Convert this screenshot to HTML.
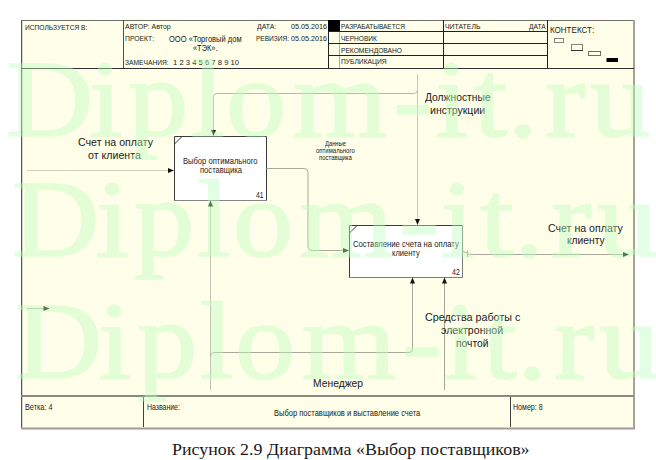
<!DOCTYPE html>
<html><head><meta charset="utf-8"><style>
html,body{margin:0;padding:0;background:#fff;width:656px;height:460px;overflow:hidden;position:relative}
.t{position:absolute;white-space:nowrap;line-height:1}
.wmg{position:absolute;left:0;top:0;width:656px;height:460px;opacity:0.42}
.wmg span{position:absolute;white-space:nowrap;line-height:1;font-family:'Liberation Serif', serif;font-size:110px;color:rgb(190,255,190);-webkit-text-stroke:1.6px rgb(190,255,190);transform:scaleX(1.1);transform-origin:0 0}
</style></head><body>
<svg width="656" height="460" style="position:absolute;left:0;top:0">
<rect x="21" y="20" width="613" height="408" fill="#fefee9"/>
<!-- outer frame -->
<line x1="21.5" y1="20" x2="21.5" y2="429" stroke="#55575e" stroke-width="1"/><line x1="22.5" y1="21" x2="22.5" y2="427" stroke="#d5d5c5" stroke-width="1"/>
<line x1="21" y1="20.5" x2="635" y2="20.5" stroke="#6e6e66" stroke-width="1"/>
<line x1="634" y1="20" x2="634" y2="429" stroke="#a2a496" stroke-width="2"/>
<line x1="21" y1="428.5" x2="635" y2="428.5" stroke="#9c9d98" stroke-width="2"/>
<!-- header lines -->
<line x1="21" y1="68.5" x2="634" y2="68.5" stroke="#303030"/>
<line x1="123.5" y1="20" x2="123.5" y2="68" stroke="#505050"/>
<line x1="328.5" y1="20" x2="328.5" y2="68" stroke="#202020"/>
<rect x="328" y="20" width="12" height="12" fill="#000"/>
<line x1="339.5" y1="32" x2="339.5" y2="68" stroke="#b0b0a8"/>
<line x1="328" y1="31.5" x2="547" y2="31.5" stroke="#202020"/>
<line x1="328" y1="43.5" x2="547" y2="43.5" stroke="#202020"/>
<line x1="328" y1="55.5" x2="547" y2="55.5" stroke="#202020"/>
<line x1="443.5" y1="20" x2="443.5" y2="68" stroke="#202020"/>
<line x1="547.5" y1="20" x2="547.5" y2="68" stroke="#202020"/>
<!-- context mini boxes -->
<rect x="554.5" y="38.5" width="9" height="4" fill="none" stroke="#84847c"/>
<rect x="571.5" y="44.5" width="11" height="6" fill="none" stroke="#84847c"/>
<line x1="571" y1="50.5" x2="583" y2="50.5" stroke="#333"/>
<rect x="588.5" y="51.5" width="12" height="4" fill="none" stroke="#6c6c64"/>
<rect x="606.5" y="58" width="11.5" height="4" fill="#000"/>
<!-- footer lines -->
<line x1="21" y1="396" x2="634" y2="396" stroke="#8a8a84" stroke-width="2"/>
<line x1="143.5" y1="397" x2="143.5" y2="427" stroke="#404040"/>
<line x1="510.5" y1="397" x2="510.5" y2="427" stroke="#404040"/>
<!-- boxes -->
<rect x="174" y="136" width="93" height="65" fill="#fff"/><path d="M174.5 201 V136.5 H266.5 V201" fill="none" stroke="#3a3a3a"/><path d="M174 200.5 H267" stroke="#858585"/>
<line x1="174.5" y1="144" x2="182" y2="136.5" stroke="#333"/>
<rect x="349" y="225" width="114" height="53" fill="#fff"/><path d="M349.5 278 V225.5 H462.5" fill="none" stroke="#3a3a3a"/><path d="M462.5 225 V277.5 H349" fill="none" stroke="#7a7a7a"/>
<line x1="349.5" y1="233" x2="357" y2="225.5" stroke="#333"/>
<!-- arrows -->
<g fill="none" stroke-width="1">
<path d="M27 170.5 H169" stroke="#d0d0c0"/>
<path d="M417.5 74 V220" stroke="#c8c8b9"/>
<path d="M417.5 90 Q417.5 93.5 414 93.5 H217 Q213.5 93.5 213.5 97 V131" stroke="#b9b9aa"/>
<path d="M266.5 168.5 H304 Q308 168.5 308 172.5 V246 Q308 250.5 312.5 250.5 H344" stroke="#aaaa9b"/>
<path d="M210.5 390 V205" stroke="#c4c4b5"/>
<path d="M210.5 356 Q210.5 352.5 214 352.5 H409 Q412.5 352.5 412.5 349 V283" stroke="#aaa89b"/>
<path d="M444.5 390 V283" stroke="#a5a596"/>
<path d="M462.5 251 L470 254.5 H624" stroke="#aaa59b"/>
<path d="M467.5 250.5 V257" stroke="#aaa59b"/>
<path d="M27 308.5 H44" stroke="#b8b8a8"/>
</g>
<path d="M168 168.0 L168 173.0 L174 170.5 Z" fill="#111"/>
<path d="M211.0 130 L216.0 130 L213.5 136 Z" fill="#111"/>
<path d="M415.0 219 L420.0 219 L417.5 225 Z" fill="#111"/>
<path d="M208.0 206.5 L213.0 206.5 L210.5 200.5 Z" fill="#111"/>
<path d="M343 248.0 L343 253.0 L349 250.5 Z" fill="#111"/>
<path d="M410.0 283.5 L415.0 283.5 L412.5 277.5 Z" fill="#111"/>
<path d="M442.0 283.5 L447.0 283.5 L444.5 277.5 Z" fill="#111"/>
<path d="M623 252.0 L623 257.0 L629 254.5 Z" fill="#111"/>
<path d="M43.5 306.0 L43.5 311.0 L49.5 308.5 Z" fill="#111"/>
</svg>
<div class="t" style="left:24.70px;top:24.03px;font-size:8.0px;font-family:'Liberation Sans', sans-serif;color:#1a1a1a;font-weight:normal;word-spacing:0px;transform:scaleX(0.8293);transform-origin:0 0;">ИСПОЛЬЗУЕТСЯ В:</div>
<div class="t" style="left:124.90px;top:23.23px;font-size:8.0px;font-family:'Liberation Sans', sans-serif;color:#1a1a1a;font-weight:normal;word-spacing:0px;transform:scaleX(0.8717);transform-origin:0 0;">АВТОР: Автор</div>
<div class="t" style="left:125.00px;top:35.03px;font-size:8.0px;font-family:'Liberation Sans', sans-serif;color:#1a1a1a;font-weight:normal;word-spacing:0px;transform:scaleX(0.8500);transform-origin:0 0;">ПРОЕКТ:</div>
<div class="t" style="left:168.80px;top:35.76px;font-size:8.2px;font-family:'Liberation Sans', sans-serif;color:#1a1a1a;font-weight:normal;word-spacing:0px;transform:scaleX(0.9215);transform-origin:0 0;">ООО «Торговый дом</div>
<div class="t" style="left:192.80px;top:44.56px;font-size:8.2px;font-family:'Liberation Sans', sans-serif;color:#1a1a1a;font-weight:normal;word-spacing:0px;transform:scaleX(0.9037);transform-origin:0 0;">«ТЭК».</div>
<div class="t" style="left:125.00px;top:59.23px;font-size:8.0px;font-family:'Liberation Sans', sans-serif;color:#1a1a1a;font-weight:normal;word-spacing:0px;transform:scaleX(0.8346);transform-origin:0 0;">ЗАМЕЧАНИЯ:</div>
<div class="t" style="left:173.40px;top:58.57px;font-size:7.6px;font-family:'Liberation Sans', sans-serif;color:#1a1a1a;font-weight:normal;word-spacing:0px;transform:scaleX(1.0091);transform-origin:0 0;">1 2 3 4 5 6 7 8 9 10</div>
<div class="t" style="left:256.56px;top:23.43px;font-size:8.0px;font-family:'Liberation Sans', sans-serif;color:#1a1a1a;font-weight:normal;word-spacing:0px;transform:scaleX(0.8609);transform-origin:0 0;">ДАТА:</div>
<div class="t" style="left:291.00px;top:23.43px;font-size:8.0px;font-family:'Liberation Sans', sans-serif;color:#1a1a1a;font-weight:normal;word-spacing:0px;transform:scaleX(0.9000);transform-origin:0 0;">05.05.2016</div>
<div class="t" style="left:255.70px;top:34.93px;font-size:8.0px;font-family:'Liberation Sans', sans-serif;color:#1a1a1a;font-weight:normal;word-spacing:0px;transform:scaleX(0.8175);transform-origin:0 0;">РЕВИЗИЯ:</div>
<div class="t" style="left:291.00px;top:34.93px;font-size:8.0px;font-family:'Liberation Sans', sans-serif;color:#1a1a1a;font-weight:normal;word-spacing:0px;transform:scaleX(0.9000);transform-origin:0 0;">05.05.2016</div>
<div class="t" style="left:341.00px;top:22.83px;font-size:8.0px;font-family:'Liberation Sans', sans-serif;color:#1a1a1a;font-weight:normal;word-spacing:0px;transform:scaleX(0.8101);transform-origin:0 0;">РАЗРАБАТЫВАЕТСЯ</div>
<div class="t" style="left:341.00px;top:34.73px;font-size:8.0px;font-family:'Liberation Sans', sans-serif;color:#1a1a1a;font-weight:normal;word-spacing:0px;transform:scaleX(0.8182);transform-origin:0 0;">ЧЕРНОВИК</div>
<div class="t" style="left:341.00px;top:46.63px;font-size:8.0px;font-family:'Liberation Sans', sans-serif;color:#1a1a1a;font-weight:normal;word-spacing:0px;transform:scaleX(0.8315);transform-origin:0 0;">РЕКОМЕНДОВАНО</div>
<div class="t" style="left:341.00px;top:57.93px;font-size:8.0px;font-family:'Liberation Sans', sans-serif;color:#1a1a1a;font-weight:normal;word-spacing:0px;transform:scaleX(0.8364);transform-origin:0 0;">ПУБЛИКАЦИЯ</div>
<div class="t" style="left:444.50px;top:22.83px;font-size:8.0px;font-family:'Liberation Sans', sans-serif;color:#1a1a1a;font-weight:normal;word-spacing:0px;transform:scaleX(0.8610);transform-origin:0 0;">ЧИТАТЕЛЬ</div>
<div class="t" style="left:528.84px;top:22.83px;font-size:8.0px;font-family:'Liberation Sans', sans-serif;color:#1a1a1a;font-weight:normal;word-spacing:0px;transform:scaleX(0.8381);transform-origin:0 0;">ДАТА</div>
<div class="t" style="left:550.00px;top:26.38px;font-size:9.0px;font-family:'Liberation Sans', sans-serif;color:#1a1a1a;font-weight:normal;word-spacing:0px;transform:scaleX(0.8918);transform-origin:0 0;">КОНТЕКСТ:</div>
<div class="t" style="left:24.80px;top:403.96px;font-size:8.2px;font-family:'Liberation Sans', sans-serif;color:#1a1a1a;font-weight:normal;word-spacing:0px;transform:scaleX(0.8871);transform-origin:0 0;">Ветка: 4</div>
<div class="t" style="left:146.80px;top:403.56px;font-size:8.2px;font-family:'Liberation Sans', sans-serif;color:#1a1a1a;font-weight:normal;word-spacing:0px;transform:scaleX(0.8462);transform-origin:0 0;">Название:</div>
<div class="t" style="left:273.50px;top:408.50px;font-size:8.5px;font-family:'Liberation Sans', sans-serif;color:#1a1a1a;font-weight:normal;word-spacing:0px;transform:scaleX(0.8873);transform-origin:0 0;">Выбор поставщиков и выставление счета</div>
<div class="t" style="left:512.80px;top:403.96px;font-size:8.2px;font-family:'Liberation Sans', sans-serif;color:#1a1a1a;font-weight:normal;word-spacing:0px;transform:scaleX(0.8629);transform-origin:0 0;">Номер: 8</div>
<div class="t" style="left:77.50px;top:136.93px;font-size:10.6px;font-family:'Liberation Sans', sans-serif;color:#1a1a1a;font-weight:normal;word-spacing:0px;transform:scaleX(1.0027);transform-origin:0 0;">Счет на оплату</div>
<div class="t" style="left:88.10px;top:149.93px;font-size:10.6px;font-family:'Liberation Sans', sans-serif;color:#1a1a1a;font-weight:normal;word-spacing:0px;transform:scaleX(1.0038);transform-origin:0 0;">от клиента</div>
<div class="t" style="left:425.27px;top:92.13px;font-size:10.6px;font-family:'Liberation Sans', sans-serif;color:#1a1a1a;font-weight:normal;word-spacing:0px;transform:scaleX(0.9725);transform-origin:0 0;">Должностные</div>
<div class="t" style="left:430.00px;top:105.03px;font-size:10.6px;font-family:'Liberation Sans', sans-serif;color:#1a1a1a;font-weight:normal;word-spacing:0px;transform:scaleX(0.9929);transform-origin:0 0;">инструкции</div>
<div class="t" style="left:182.90px;top:157.00px;font-size:8.5px;font-family:'Liberation Sans', sans-serif;color:#1a1a1a;font-weight:normal;word-spacing:0px;transform:scaleX(0.8929);transform-origin:0 0;">Выбор оптимального</div>
<div class="t" style="left:199.70px;top:166.40px;font-size:8.5px;font-family:'Liberation Sans', sans-serif;color:#1a1a1a;font-weight:normal;word-spacing:0px;transform:scaleX(0.8957);transform-origin:0 0;">поставщика</div>
<div class="t" style="left:255.90px;top:190.60px;font-size:8.5px;font-family:'Liberation Sans', sans-serif;color:#1a1a1a;font-weight:normal;word-spacing:0px;transform:scaleX(0.7850);transform-origin:0 0;">41</div>
<div class="t" style="left:325.08px;top:140.81px;font-size:6.6px;font-family:'Liberation Sans', sans-serif;color:#1a1a1a;font-weight:normal;word-spacing:0px;transform:scaleX(0.8800);transform-origin:0 0;">Данные</div>
<div class="t" style="left:316.00px;top:148.01px;font-size:6.6px;font-family:'Liberation Sans', sans-serif;color:#1a1a1a;font-weight:normal;word-spacing:0px;transform:scaleX(0.9093);transform-origin:0 0;">оптимального</div>
<div class="t" style="left:319.20px;top:155.41px;font-size:6.6px;font-family:'Liberation Sans', sans-serif;color:#1a1a1a;font-weight:normal;word-spacing:0px;transform:scaleX(0.9027);transform-origin:0 0;">поставщика</div>
<div class="t" style="left:353.20px;top:239.80px;font-size:8.5px;font-family:'Liberation Sans', sans-serif;color:#1a1a1a;font-weight:normal;word-spacing:0px;transform:scaleX(0.9043);transform-origin:0 0;">Составление счета на оплату</div>
<div class="t" style="left:392.30px;top:249.30px;font-size:8.5px;font-family:'Liberation Sans', sans-serif;color:#1a1a1a;font-weight:normal;word-spacing:0px;transform:scaleX(0.8875);transform-origin:0 0;">клиенту</div>
<div class="t" style="left:452.20px;top:267.60px;font-size:8.5px;font-family:'Liberation Sans', sans-serif;color:#1a1a1a;font-weight:normal;word-spacing:0px;transform:scaleX(0.8200);transform-origin:0 0;">42</div>
<div class="t" style="left:548.00px;top:222.73px;font-size:10.6px;font-family:'Liberation Sans', sans-serif;color:#1a1a1a;font-weight:normal;word-spacing:0px;">Счет на оплату</div>
<div class="t" style="left:566.80px;top:235.03px;font-size:10.6px;font-family:'Liberation Sans', sans-serif;color:#1a1a1a;font-weight:normal;word-spacing:0px;transform:scaleX(0.9692);transform-origin:0 0;">клиенту</div>
<div class="t" style="left:424.70px;top:312.03px;font-size:10.6px;font-family:'Liberation Sans', sans-serif;color:#1a1a1a;font-weight:normal;word-spacing:0px;transform:scaleX(1.0128);transform-origin:0 0;">Средства работы с</div>
<div class="t" style="left:441.00px;top:324.93px;font-size:10.6px;font-family:'Liberation Sans', sans-serif;color:#1a1a1a;font-weight:normal;word-spacing:0px;">электронной</div>
<div class="t" style="left:455.80px;top:338.03px;font-size:10.6px;font-family:'Liberation Sans', sans-serif;color:#1a1a1a;font-weight:normal;word-spacing:0px;transform:scaleX(0.9706);transform-origin:0 0;">почтой</div>
<div class="t" style="left:313.40px;top:377.63px;font-size:10.6px;font-family:'Liberation Sans', sans-serif;color:#1a1a1a;font-weight:normal;word-spacing:0px;transform:scaleX(0.9731);transform-origin:0 0;">Менеджер</div>
<div class="t" style="left:172.40px;top:441.00px;font-size:17.5px;font-family:'Liberation Serif', serif;color:#1a1a1a;font-weight:normal;word-spacing:0px;transform:scaleX(1.0247);transform-origin:0 0;">Рисунок 2.9 Диаграмма «Выбор поставщиков»</div>
<div class="wmg"><span style="left:5.8px;top:43.9px">D</span><span style="left:89.3px;top:43.9px">i</span><span style="left:127.9px;top:43.9px">p</span><span style="left:190.8px;top:43.9px">l</span><span style="left:226.3px;top:43.9px">o</span><span style="left:293.0px;top:43.9px">m</span><span style="left:392.6px;top:43.9px">-</span><span style="left:434.8px;top:43.9px">i</span><span style="left:473.8px;top:43.9px">t</span><span style="left:507.9px;top:43.9px">.</span><span style="left:544.5px;top:43.9px">r</span><span style="left:590.3px;top:43.9px">u</span><span style="left:12.1px;top:164.4px">D</span><span style="left:95.6px;top:164.4px">i</span><span style="left:134.2px;top:164.4px">p</span><span style="left:197.1px;top:164.4px">l</span><span style="left:232.6px;top:164.4px">o</span><span style="left:299.3px;top:164.4px">m</span><span style="left:398.9px;top:164.4px">-</span><span style="left:441.1px;top:164.4px">i</span><span style="left:480.1px;top:164.4px">t</span><span style="left:514.2px;top:164.4px">.</span><span style="left:550.8px;top:164.4px">r</span><span style="left:596.6px;top:164.4px">u</span><span style="left:14.8px;top:286.4px">D</span><span style="left:98.3px;top:286.4px">i</span><span style="left:136.9px;top:286.4px">p</span><span style="left:199.8px;top:286.4px">l</span><span style="left:235.3px;top:286.4px">o</span><span style="left:302.0px;top:286.4px">m</span><span style="left:401.6px;top:286.4px">-</span><span style="left:443.8px;top:286.4px">i</span><span style="left:482.8px;top:286.4px">t</span><span style="left:516.9px;top:286.4px">.</span><span style="left:553.5px;top:286.4px">r</span><span style="left:599.3px;top:286.4px">u</span></div>
</body></html>
